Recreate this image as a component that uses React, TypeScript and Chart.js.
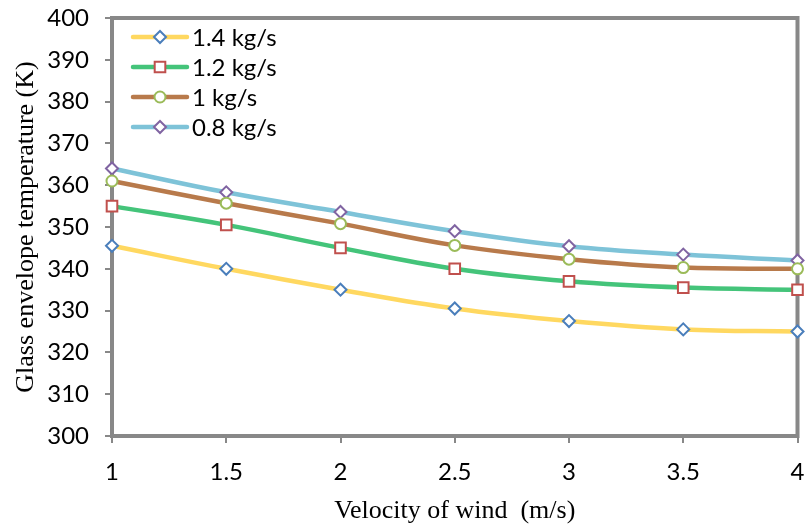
import { useEffect, useRef } from 'react';
import { Chart, registerables } from 'chart.js';
import { drawPoint } from 'chart.js/helpers';

Chart.register(...registerables);

// Wind velocity (m/s)
const windSpeeds = [1, 1.5, 2, 2.5, 3, 3.5, 4];

// Glass envelope temperature (K) for each mass flow rate
const flow14 = [345.5, 340, 335, 330.5, 327.5, 325.5, 325];
const flow12 = [355, 350.5, 345, 340, 337, 335.5, 335];
const flow10 = [361, 355.7, 350.8, 345.6, 342.3, 340.3, 340];
const flow08 = [364, 358.3, 353.6, 349, 345.4, 343.4, 342];

const seriesLabels = ['1.4 kg/s', '1.2 kg/s', '1 kg/s', '0.8 kg/s'];
const seriesValues = [flow14, flow12, flow10, flow08];
const lineColors = ['#FFD860', '#44C47A', '#B87A4B', '#7EC3D8'];
const markerColors = ['#4A7EBB', '#C0504D', '#9BBB59', '#8064A2'];
const markerStyles = ['rectRot', 'rect', 'circle', 'rectRot'];
const markerRadii = [6, 7.5, 5.5, 6];

const yTitle = 'Glass envelope temperature (K)';
const xTitle = 'Velocity of wind  (m/s)';

const AXIS_GREY = '#888888';
const TICK_FONT = { family: 'Lato', size: 24 };
const TITLE_FONT = { family: "'Liberation Serif', 'Times New Roman', serif", size: 26 };

// Top and right edges of the plot frame
const frameEdges = {
  id: 'frameEdges',
  beforeDatasetsDraw(chart: any) {
    const { ctx, chartArea } = chart;
    ctx.save();
    ctx.strokeStyle = AXIS_GREY;
    ctx.lineWidth = 4;
    ctx.beginPath();
    ctx.moveTo(chartArea.left - 2, chartArea.top);
    ctx.lineTo(chartArea.right, chartArea.top);
    ctx.lineTo(chartArea.right, chartArea.bottom + 2);
    ctx.stroke();
    ctx.restore();
  },
};

// Legend drawn inside the plot, top-left
const insetLegend = {
  id: 'insetLegend',
  afterDraw(chart: any) {
    const { ctx, chartArea } = chart;
    chart.data.datasets.forEach((ds: any, i: number) => {
      const y = chartArea.top + 19 + i * 30;
      const x0 = chartArea.left + 21;
      const x1 = x0 + 54;
      ctx.save();
      ctx.strokeStyle = ds.borderColor;
      ctx.lineWidth = 4.5;
      ctx.lineCap = 'round';
      ctx.beginPath();
      ctx.moveTo(x0, y);
      ctx.lineTo(x1, y);
      ctx.stroke();
      ctx.fillStyle = '#ffffff';
      ctx.strokeStyle = ds.pointBorderColor;
      ctx.lineWidth = ds.pointBorderWidth;
      drawPoint(ctx, { pointStyle: ds.pointStyle, radius: ds.pointRadius, rotation: 0, borderWidth: ds.pointBorderWidth }, (x0 + x1) / 2, y);
      ctx.fillStyle = '#000000';
      ctx.font = `${TICK_FONT.size}px ${TICK_FONT.family}`;
      ctx.textBaseline = 'middle';
      ctx.textAlign = 'left';
      ctx.fillText(ds.label, x1 + 5, y + 1);
      ctx.restore();
    });
  },
};

const plainNumber = (value: number | string) => String(Number(value));

export default function App() {
  const canvasRef = useRef<HTMLCanvasElement>(null);

  useEffect(() => {
    if (!canvasRef.current) return;
    const chart = new Chart(canvasRef.current, {
      type: 'line',
      data: {
        datasets: seriesLabels.map((label, i) => ({
          label,
          data: windSpeeds.map((x, j) => ({ x, y: seriesValues[i][j] })),
          borderColor: lineColors[i],
          borderWidth: 4.5,
          tension: 0.4,
          pointStyle: markerStyles[i] as any,
          pointRadius: markerRadii[i],
          pointBorderWidth: 2,
          pointBorderColor: markerColors[i],
          pointBackgroundColor: '#ffffff',
          clip: false as any,
        })),
      },
      options: {
        responsive: false,
        animation: false,
        layout: { padding: { top: 18, right: 9, left: 0, bottom: 0 } },
        plugins: {
          legend: { display: false },
          tooltip: { enabled: false },
        },
        scales: {
          x: {
            type: 'linear',
            min: 1,
            max: 4,
            afterFit(scale: any) {
              scale.height = 93;
              scale.paddingLeft = 0;
              scale.paddingRight = 0;
            },
            ticks: {
              stepSize: 0.5,
              color: '#000000',
              font: TICK_FONT,
              padding: 15,
              maxRotation: 0,
              callback: plainNumber,
            },
            grid: {
              drawOnChartArea: false,
              drawTicks: true,
              tickLength: 7,
              tickColor: AXIS_GREY,
              lineWidth: 2,
            },
            border: { display: true, color: AXIS_GREY, width: 4 },
            title: {
              display: true,
              text: xTitle,
              color: '#000000',
              font: TITLE_FONT,
              padding: { top: 4, bottom: 2 },
            },
          },
          y: {
            type: 'linear',
            min: 300,
            max: 400,
            afterFit(scale: any) {
              scale.width = 112;
              scale.paddingTop = 0;
              scale.paddingBottom = 0;
            },
            ticks: {
              stepSize: 10,
              color: '#000000',
              font: TICK_FONT,
              padding: 16,
              callback: plainNumber,
            },
            grid: {
              drawOnChartArea: false,
              drawTicks: true,
              tickLength: 7,
              tickColor: AXIS_GREY,
              lineWidth: 2,
            },
            border: { display: true, color: AXIS_GREY, width: 4 },
            title: {
              display: true,
              text: yTitle,
              color: '#000000',
              font: TITLE_FONT,
              padding: { top: 11, bottom: 4 },
            },
          },
        },
      },
      plugins: [frameEdges, insetLegend],
    });
    return () => chart.destroy();
  }, []);

  return (
    <div style={{ position: 'fixed', left: 0, top: 0, width: 807, height: 529, background: '#ffffff' }}>
      <canvas ref={canvasRef} width={807} height={529} />
    </div>
  );
}
